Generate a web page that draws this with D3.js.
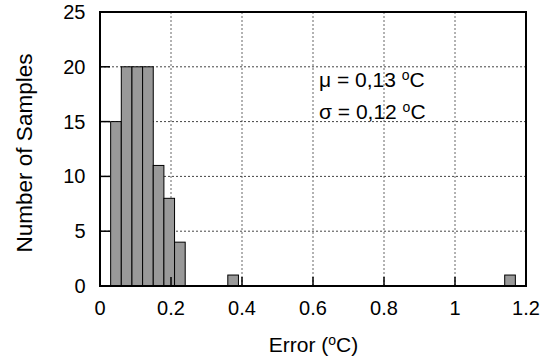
<!DOCTYPE html>
<html lang="en">
<head>
    <meta charset="UTF-8">
    <title>Error histogram</title>
    <script src="https://cdn.jsdelivr.net/npm/d3@7/dist/d3.min.js"></script>
    <style>
        body { margin: 0; background: #fff; }
        text { font-family: "Liberation Sans", Arial, sans-serif; fill: #000; }
    </style>
</head>
<body>
    <svg width="553" height="362" id="mainsvg"></svg>
    <script>
        // histogram bins (error in degC) and counts
        const binStarts = [0.03, 0.06, 0.09, 0.12, 0.15, 0.18, 0.21, 0.36, 1.14];
        const binWidth = 0.03;
        const counts = [15, 20, 20, 20, 11, 8, 4, 1, 1];
        const xTicks = [0, 0.2, 0.4, 0.6, 0.8, 1, 1.2];
        const yTicks = [0, 5, 10, 15, 20, 25];
        const statLines = [['\u03bc', '0,13'], ['\u03c3', '0,12']];

        const svg = d3.select('#mainsvg');
        const margin = { top: 12, right: 27, bottom: 76, left: 100 };
        const width = +svg.attr('width');
        const height = +svg.attr('height');
        const innerWidth = width - margin.left - margin.right;
        const innerHeight = height - margin.top - margin.bottom;

        const g = svg.append('g')
            .attr('transform', `translate(${margin.left},${margin.top})`);

        const x = d3.scaleLinear().domain([0, 1.2]).range([0, innerWidth]);
        const y = d3.scaleLinear().domain([0, 25]).range([innerHeight, 0]);

        // grid (behind bars)
        g.selectAll('.vgrid').data(xTicks.slice(1, -1)).join('line')
            .attr('x1', d => x(d)).attr('x2', d => x(d))
            .attr('y1', 0).attr('y2', innerHeight)
            .attr('stroke', '#666').attr('stroke-width', 1)
            .attr('stroke-dasharray', '2,2');
        g.selectAll('.hgrid').data(yTicks.slice(1, -1)).join('line')
            .attr('x1', 0).attr('x2', innerWidth)
            .attr('y1', d => y(d)).attr('y2', d => y(d))
            .attr('stroke', '#444').attr('stroke-width', 1)
            .attr('stroke-dasharray', '2,2');

        // bars
        g.selectAll('rect.bar').data(binStarts).join('rect')
            .attr('class', 'bar')
            .attr('x', d => x(d))
            .attr('width', x(binWidth) - x(0))
            .attr('y', (d, i) => y(counts[i]))
            .attr('height', (d, i) => innerHeight - y(counts[i]))
            .attr('fill', '#999')
            .attr('stroke', '#000')
            .attr('stroke-width', 1);

        // inward ticks
        g.selectAll('.xtick').data(xTicks.slice(1, -1)).join('line')
            .attr('x1', d => x(d)).attr('x2', d => x(d))
            .attr('y1', innerHeight).attr('y2', innerHeight - 9)
            .attr('stroke', '#000').attr('stroke-width', 1.5);
        g.selectAll('.ytick').data(yTicks.slice(1, -1)).join('line')
            .attr('x1', 0).attr('x2', 10)
            .attr('y1', d => y(d)).attr('y2', d => y(d))
            .attr('stroke', '#000').attr('stroke-width', 1.5);

        // frame
        g.append('rect')
            .attr('width', innerWidth).attr('height', innerHeight)
            .attr('fill', 'none').attr('stroke', '#000').attr('stroke-width', 2);

        // tick labels
        g.selectAll('.xlab').data(xTicks).join('text')
            .attr('x', d => x(d)).attr('y', 315 - margin.top)
            .attr('text-anchor', 'middle').attr('font-size', 20)
            .text(d => d3.format('')(d));
        g.selectAll('.ylab').data(yTicks).join('text')
            .attr('x', -14.5).attr('y', d => y(d)).attr('dy', '0.35em')
            .attr('text-anchor', 'end').attr('font-size', 20)
            .text(d => d);

        // axis titles
        const xt = svg.append('text')
            .attr('x', 313.5).attr('y', 352)
            .attr('text-anchor', 'middle').attr('font-size', 21);
        xt.append('tspan').text('Error (');
        xt.append('tspan').attr('dy', -7).attr('font-size', 14).text('o');
        xt.append('tspan').attr('dy', 7).text('C)');

        svg.append('text')
            .attr('transform', `translate(32,153) rotate(-90)`)
            .attr('text-anchor', 'middle').attr('font-size', 22.5)
            .text('Number of Samples');

        // stats annotation
        statLines.forEach(([sym, val], i) => {
            const t = svg.append('text')
                .attr('x', 319).attr('y', 87 + i * 32)
                .attr('font-size', 21);
            t.append('tspan').text(`${sym} = ${val} `);
            t.append('tspan').attr('dy', -7).attr('font-size', 14).text('o');
            t.append('tspan').attr('dy', 7).text('C');
        });
    </script>
</body>
</html>
